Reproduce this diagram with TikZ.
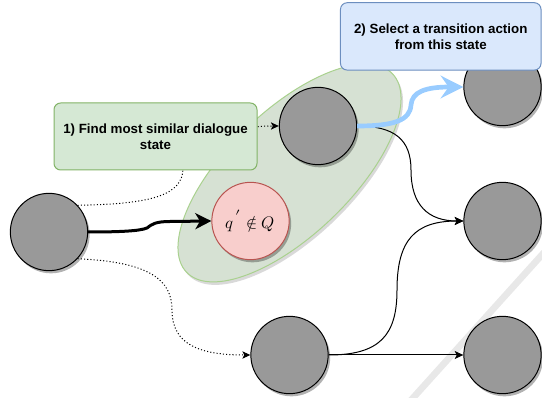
\documentclass[tikz,border=0pt]{standalone}
\usepackage{fontspec}
\usepackage{unicode-math}
\setmainfont{Liberation Sans}
\usetikzlibrary{arrows.meta,shadows}
\definecolor{stategray}{HTML}{999999}
\definecolor{greenfill}{HTML}{D5E8D4}
\definecolor{greendraw}{HTML}{82B366}
\definecolor{bluefill}{HTML}{DAE8FC}
\definecolor{bluedraw}{HTML}{6C8EBF}
\definecolor{redfill}{HTML}{F8CECC}
\definecolor{reddraw}{HTML}{B85450}
\definecolor{ellfill}{HTML}{D6E1D3}
\definecolor{elldraw}{HTML}{A9D18E}
\definecolor{arrowblue}{HTML}{99CCFF}
\definecolor{markgray}{HTML}{E8E8E8}
\begin{document}
\begin{tikzpicture}[x=0.75pt,y=-0.75pt,
  shadowed/.style={drop shadow={shadow xshift=1.5pt,shadow yshift=-2pt,fill=black,opacity=0.3}},
  statenode/.style={circle,draw=black,line width=0.75pt,fill=stategray,minimum size=58pt,inner sep=0pt,shadowed},
  rednode/.style={statenode,fill=redfill,draw=reddraw},
  notebox/.style={rectangle,rounded corners=5pt,line width=0.75pt,align=center,inner sep=0pt,
    font=\fontsize{10}{12}\selectfont\bfseries},
  greenbox/.style={notebox,fill=greenfill,draw=greendraw,minimum width=152.25pt,minimum height=50.25pt},
  bluebox/.style={notebox,fill=bluefill,draw=bluedraw,minimum width=150.4pt,minimum height=50.5pt},
  conn/.style={line width=0.75pt,-{Stealth[length=6.5pt,width=6pt,inset=1.5pt]}},
  dotconn/.style={line width=0.75pt,dash pattern=on 0.8pt off 1.6pt,-{Stealth[length=6pt,width=5.5pt,inset=1.5pt]}},
  thickconn/.style={line width=2.25pt,-{Stealth[length=12pt,width=12pt,inset=3.5pt]}},
  blueconn/.style={line width=3.5pt,draw=arrowblue,-{Stealth[length=17pt,width=17pt,inset=6pt]}}
]
\useasboundingbox (0,0) rectangle (542,398);
% watermark stroke
\begin{scope}
\clip (0,0) rectangle (542,398);
\draw[line width=5pt,markgray] (400,412.4) -- (555,240.3);
\end{scope}
% ellipse group
\path[fill=black,opacity=0.15,rotate around={44:(291.5,176)}] (291.5,176) ellipse [x radius=107.25pt,y radius=46.5pt];
\path[fill=ellfill,draw=elldraw,line width=0.75pt,rotate around={44:(289.5,173)}] (289.5,173) ellipse [x radius=107.25pt,y radius=46.5pt];
% states
\node[statenode] (L) at (49,232) {};
\node[statenode] (M) at (318,126) {};
\node[rednode] (R) at (250.5,221) {\fontsize{12.5}{14}\selectfont $q^{\,\displaystyle\prime}\notin Q$};
\node[statenode] (TR) at (502.5,87) {};
\node[statenode] (MR) at (502.5,221) {};
\node[statenode] (B) at (289.5,355) {};
\node[statenode] (BR) at (502.5,355) {};
% connectors
\draw[dotconn] (L.43) .. controls (150,204) and (183,196) .. (183,168) .. controls (183,140) and (230,126) .. (M.west);
\draw[dotconn] (L.-43) .. controls (150,262) and (172,280) .. (172,310) .. controls (172,345) and (200,355) .. (B.west);
\draw[thickconn] (L.east) .. controls (120,232) and (140,231) .. (147,228) .. controls (152,224) and (156,221.5) .. (170,221.5) -- (R.west);
\draw[conn] (M.east) .. controls (395,126) and (411,140) .. (411,170) .. controls (411,205) and (428,221) .. (MR.west);
\draw[conn] (B.east) .. controls (380,355) and (397,335) .. (397,290) .. controls (397,240) and (415,221) .. (MR.west);
\draw[conn] (B.east) -- (BR.west);
\draw[blueconn] (M.east) .. controls (395,126) and (410,120) .. (411,105) .. controls (412,92) and (425,87) .. (TR.west);
% notes
\node[greenbox] (G) at (155.5,136.5) {1) Find most similar dialogue\\state};
\node[bluebox] (BX) at (440.75,36.4) {2) Select a transition action\\from this state};
\end{tikzpicture}
\end{document}
